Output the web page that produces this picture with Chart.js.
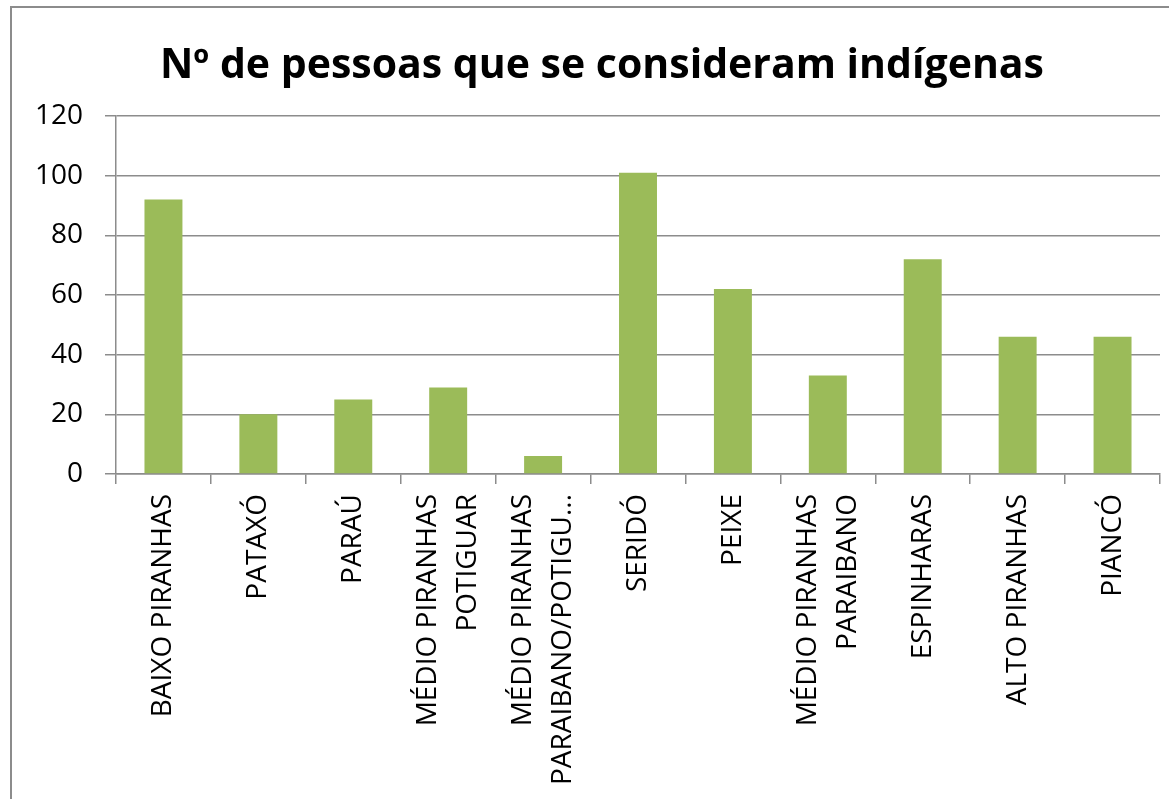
<!DOCTYPE html>
<html>
<head>
<meta charset="utf-8">
<script src="https://cdn.jsdelivr.net/npm/chart.js@4.4.1/dist/chart.umd.min.js"></script>
<style>
  html, body { margin: 0; padding: 0; background: #fff; overflow: hidden; }
  #frame {
    position: absolute; left: 10px; top: 6px;
    width: 1200px; height: 850px;
    border: 2px solid #8c8c8c;
  }
  #wrap { position: absolute; left: 0; top: 0; width: 1169px; height: 799px; }
</style>
</head>
<body>
<div id="frame"></div>
<div id="wrap"><canvas id="chart" width="1169" height="799"></canvas></div>
<script>
const categories = [
    'BAIXO PIRANHAS',
    'PATAXÓ',
    'PARAÚ',
    ['MÉDIO PIRANHAS', 'POTIGUAR'],
    ['MÉDIO PIRANHAS', 'PARAIBANO/POTIGU...'],
    'SERIDÓ',
    'PEIXE',
    ['MÉDIO PIRANHAS', 'PARAIBANO'],
    'ESPINHARAS',
    'ALTO PIRANHAS',
    'PIANCÓ'
];
const pessoas = [92, 20, 25, 29, 6, 101, 62, 33, 72, 46, 46];

const axisGray = '#8c8c8c';
const labelFont = { family: 'Open Sans', size: 28 };
const xLabelFont = { family: 'Open Sans', size: 28, lineHeight: 1.43 };

// rotated multi-line labels: center the lines on the tick instead of starting at it
const centerLines = {
    id: 'centerLines',
    afterLayout(chart) {
        // title sits a bit right of the canvas middle in the original
        chart.titleBlock.left += 44;
    },
    beforeDraw(chart) {
        const scale = chart.scales.x;
        const items = scale.getLabelItems(chart.chartArea);
        items.forEach(item => {
            if (item._centered) return;
            item._centered = true;
            if (Array.isArray(item.label) && item.label.length > 1) {
                item.textOffset -= (item.label.length - 1) * item.font.lineHeight / 2;
            }
        });
    }
};

const ctx = document.getElementById('chart').getContext('2d');
new Chart(ctx, {
    type: 'bar',
    data: {
        labels: categories,
        datasets: [{
            label: 'Nº de pessoas',
            data: pessoas,
            backgroundColor: '#9bbb59',
            barPercentage: 0.4,
            categoryPercentage: 1.0
        }]
    },
    options: {
        responsive: false,
        animation: false,
        layout: { padding: { left: 0, right: 9, top: 0, bottom: 0 } },
        plugins: {
            legend: { display: false },
            tooltip: { enabled: false },
            title: {
                display: true,
                text: 'Nº de pessoas que se consideram indígenas',
                color: '#000',
                font: { family: 'Open Sans', size: 41, weight: 'bold' },
                padding: { top: 41.5, bottom: 25.3 }
            }
        },
        scales: {
            x: {
                afterFit: scale => { scale.height = 325; },
                grid: {
                    offset: true,
                    drawOnChartArea: false,
                    tickLength: 10,
                    color: axisGray,
                    lineWidth: 1.5
                },
                border: { color: axisGray, width: 1.5 },
                ticks: {
                    color: '#000',
                    font: xLabelFont,
                    minRotation: 90,
                    maxRotation: 90,
                    autoSkip: false,
                    padding: 10
                }
            },
            y: {
                min: 0,
                max: 120,
                afterFit: scale => { scale.width = 116; },
                grid: {
                    color: axisGray,
                    lineWidth: 1.5,
                    tickLength: 11
                },
                border: { color: axisGray, width: 1.5 },
                ticks: {
                    stepSize: 20,
                    color: '#000',
                    font: labelFont,
                    padding: 22
                }
            }
        }
    },
    plugins: [centerLines]
});
</script>
</body>
</html>
